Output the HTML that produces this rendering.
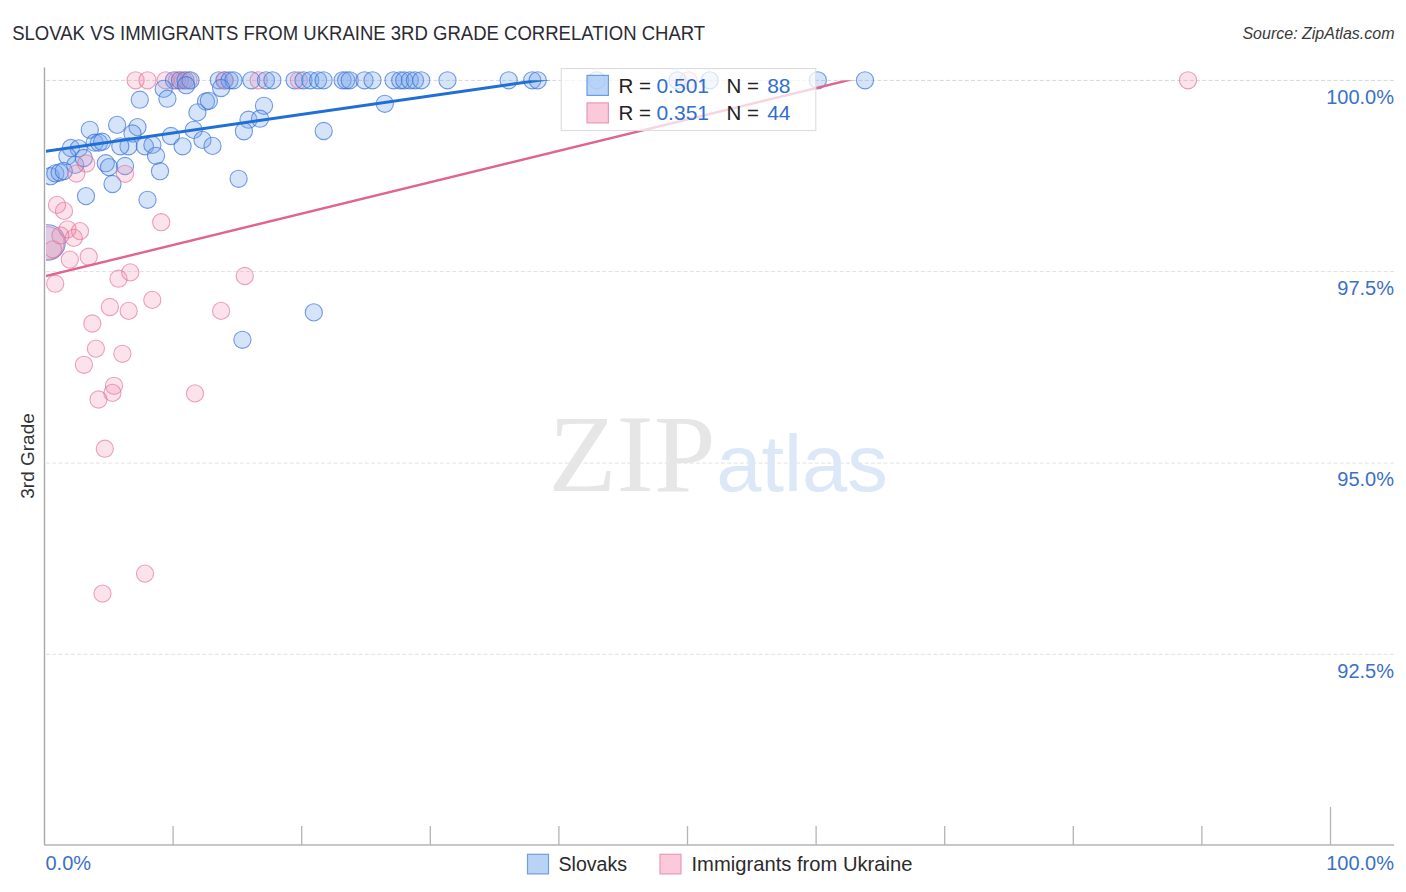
<!DOCTYPE html>
<html><head><meta charset="utf-8"><style>
html,body{margin:0;padding:0;background:#fff;width:1406px;height:892px;overflow:hidden}
body{position:relative;font-family:"Liberation Sans",sans-serif}
svg text{font-family:"Liberation Sans",sans-serif}
</style></head><body>
<svg width="1406" height="892" style="position:absolute;left:0;top:0">
<defs><clipPath id="c"><rect x="46" y="60" width="1360" height="785"/></clipPath><clipPath id="cl"><rect x="46" y="80.3" width="1360" height="765"/></clipPath></defs>
<text x="12.2" y="39.75" font-size="19.8" fill="#2b2b35" textLength="693" lengthAdjust="spacingAndGlyphs">SLOVAK VS IMMIGRANTS FROM UKRAINE 3RD GRADE CORRELATION CHART</text>
<text x="1394.5" y="38.8" font-size="16" fill="#3a3a3a" font-style="italic" text-anchor="end">Source: ZipAtlas.com</text>
<line x1="46" y1="80.4" x2="1394" y2="80.4" stroke="#d6d6d6" stroke-width="1" stroke-dasharray="4 2.25"/><line x1="46" y1="271.5" x2="1394" y2="271.5" stroke="#e2e2e2" stroke-width="1" stroke-dasharray="4 2.25"/><line x1="46" y1="463.1" x2="1394" y2="463.1" stroke="#e2e2e2" stroke-width="1" stroke-dasharray="4 2.25"/><line x1="46" y1="654.3" x2="1394" y2="654.3" stroke="#e2e2e2" stroke-width="1" stroke-dasharray="4 2.25"/>
<text x="548.6" y="491" font-family="Liberation Serif" font-size="111" fill="#e6e6e6" textLength="167" lengthAdjust="spacingAndGlyphs" style="font-family:'Liberation Serif',serif">ZIP</text>
<text x="716.3" y="491" font-size="80" fill="#dce8f8" textLength="171.4" lengthAdjust="spacingAndGlyphs">atlas</text>
<g clip-path="url(#c)">
<circle cx="47.5" cy="242.5" r="17.8" fill="rgba(120,165,235,0.3)" stroke="rgba(55,110,215,0.68)" stroke-width="1.1"/><circle cx="47.8" cy="243" r="16.3" fill="rgba(245,140,175,0.25)" stroke="rgba(225,115,150,0.65)" stroke-width="1.1"/><circle cx="135.6" cy="80.3" r="8.6" fill="rgba(245,140,175,0.25)" stroke="rgba(225,115,150,0.65)" stroke-width="1.1"/><circle cx="147.5" cy="80.3" r="8.6" fill="rgba(245,140,175,0.25)" stroke="rgba(225,115,150,0.65)" stroke-width="1.1"/><circle cx="165.7" cy="80.3" r="8.6" fill="rgba(245,140,175,0.25)" stroke="rgba(225,115,150,0.65)" stroke-width="1.1"/><circle cx="174" cy="80.3" r="8.6" fill="rgba(120,165,235,0.3)" stroke="rgba(55,110,215,0.68)" stroke-width="1.1"/><circle cx="177" cy="80.3" r="8.6" fill="rgba(245,140,175,0.25)" stroke="rgba(225,115,150,0.65)" stroke-width="1.1"/><circle cx="180" cy="80.3" r="8.6" fill="rgba(120,165,235,0.3)" stroke="rgba(55,110,215,0.68)" stroke-width="1.1"/><circle cx="183" cy="80.3" r="8.6" fill="rgba(245,140,175,0.25)" stroke="rgba(225,115,150,0.65)" stroke-width="1.1"/><circle cx="185.5" cy="80.3" r="8.6" fill="rgba(120,165,235,0.3)" stroke="rgba(55,110,215,0.68)" stroke-width="1.1"/><circle cx="188.5" cy="80.3" r="8.6" fill="rgba(245,140,175,0.25)" stroke="rgba(225,115,150,0.65)" stroke-width="1.1"/><circle cx="190.5" cy="80.3" r="8.6" fill="rgba(120,165,235,0.3)" stroke="rgba(55,110,215,0.68)" stroke-width="1.1"/><circle cx="218.8" cy="80.3" r="8.6" fill="rgba(120,165,235,0.3)" stroke="rgba(55,110,215,0.68)" stroke-width="1.1"/><circle cx="224.5" cy="80.3" r="8.6" fill="rgba(120,165,235,0.3)" stroke="rgba(55,110,215,0.68)" stroke-width="1.1"/><circle cx="224.7" cy="80.3" r="8.6" fill="rgba(245,140,175,0.25)" stroke="rgba(225,115,150,0.65)" stroke-width="1.1"/><circle cx="229.6" cy="80.3" r="8.6" fill="rgba(120,165,235,0.3)" stroke="rgba(55,110,215,0.68)" stroke-width="1.1"/><circle cx="233.5" cy="80.3" r="8.6" fill="rgba(120,165,235,0.3)" stroke="rgba(55,110,215,0.68)" stroke-width="1.1"/><circle cx="251.3" cy="80.3" r="8.6" fill="rgba(120,165,235,0.3)" stroke="rgba(55,110,215,0.68)" stroke-width="1.1"/><circle cx="258.7" cy="80.3" r="8.6" fill="rgba(245,140,175,0.25)" stroke="rgba(225,115,150,0.65)" stroke-width="1.1"/><circle cx="266" cy="80.3" r="8.6" fill="rgba(120,165,235,0.3)" stroke="rgba(55,110,215,0.68)" stroke-width="1.1"/><circle cx="272.4" cy="80.3" r="8.6" fill="rgba(120,165,235,0.3)" stroke="rgba(55,110,215,0.68)" stroke-width="1.1"/><circle cx="294.6" cy="80.3" r="8.6" fill="rgba(120,165,235,0.3)" stroke="rgba(55,110,215,0.68)" stroke-width="1.1"/><circle cx="298.9" cy="80.3" r="8.6" fill="rgba(245,140,175,0.25)" stroke="rgba(225,115,150,0.65)" stroke-width="1.1"/><circle cx="303.5" cy="80.3" r="8.6" fill="rgba(120,165,235,0.3)" stroke="rgba(55,110,215,0.68)" stroke-width="1.1"/><circle cx="310.3" cy="80.3" r="8.6" fill="rgba(120,165,235,0.3)" stroke="rgba(55,110,215,0.68)" stroke-width="1.1"/><circle cx="318.1" cy="80.3" r="8.6" fill="rgba(120,165,235,0.3)" stroke="rgba(55,110,215,0.68)" stroke-width="1.1"/><circle cx="323.6" cy="80.3" r="8.6" fill="rgba(120,165,235,0.3)" stroke="rgba(55,110,215,0.68)" stroke-width="1.1"/><circle cx="342.6" cy="80.3" r="8.6" fill="rgba(120,165,235,0.3)" stroke="rgba(55,110,215,0.68)" stroke-width="1.1"/><circle cx="346.2" cy="80.3" r="8.6" fill="rgba(120,165,235,0.3)" stroke="rgba(55,110,215,0.68)" stroke-width="1.1"/><circle cx="349.7" cy="80.3" r="8.6" fill="rgba(120,165,235,0.3)" stroke="rgba(55,110,215,0.68)" stroke-width="1.1"/><circle cx="364.5" cy="80.3" r="8.6" fill="rgba(120,165,235,0.3)" stroke="rgba(55,110,215,0.68)" stroke-width="1.1"/><circle cx="372.5" cy="80.3" r="8.6" fill="rgba(120,165,235,0.3)" stroke="rgba(55,110,215,0.68)" stroke-width="1.1"/><circle cx="393.5" cy="80.3" r="8.6" fill="rgba(120,165,235,0.3)" stroke="rgba(55,110,215,0.68)" stroke-width="1.1"/><circle cx="400.2" cy="80.3" r="8.6" fill="rgba(120,165,235,0.3)" stroke="rgba(55,110,215,0.68)" stroke-width="1.1"/><circle cx="404.2" cy="80.3" r="8.6" fill="rgba(120,165,235,0.3)" stroke="rgba(55,110,215,0.68)" stroke-width="1.1"/><circle cx="409.9" cy="80.3" r="8.6" fill="rgba(120,165,235,0.3)" stroke="rgba(55,110,215,0.68)" stroke-width="1.1"/><circle cx="415" cy="80.3" r="8.6" fill="rgba(120,165,235,0.3)" stroke="rgba(55,110,215,0.68)" stroke-width="1.1"/><circle cx="421.2" cy="80.3" r="8.6" fill="rgba(120,165,235,0.3)" stroke="rgba(55,110,215,0.68)" stroke-width="1.1"/><circle cx="447.5" cy="80.3" r="8.6" fill="rgba(120,165,235,0.3)" stroke="rgba(55,110,215,0.68)" stroke-width="1.1"/><circle cx="508.7" cy="80.3" r="8.6" fill="rgba(120,165,235,0.3)" stroke="rgba(55,110,215,0.68)" stroke-width="1.1"/><circle cx="532.2" cy="80.3" r="8.6" fill="rgba(120,165,235,0.3)" stroke="rgba(55,110,215,0.68)" stroke-width="1.1"/><circle cx="537.7" cy="80.3" r="8.6" fill="rgba(120,165,235,0.3)" stroke="rgba(55,110,215,0.68)" stroke-width="1.1"/><circle cx="596.8" cy="80.3" r="8.6" fill="rgba(120,165,235,0.3)" stroke="rgba(55,110,215,0.68)" stroke-width="1.1"/><circle cx="677.5" cy="80.3" r="8.6" fill="rgba(120,165,235,0.3)" stroke="rgba(55,110,215,0.68)" stroke-width="1.1"/><circle cx="688.5" cy="80.3" r="8.6" fill="rgba(245,140,175,0.25)" stroke="rgba(225,115,150,0.65)" stroke-width="1.1"/><circle cx="709.7" cy="80.3" r="8.6" fill="rgba(120,165,235,0.3)" stroke="rgba(55,110,215,0.68)" stroke-width="1.1"/><circle cx="817.8" cy="80.3" r="8.6" fill="rgba(120,165,235,0.3)" stroke="rgba(55,110,215,0.68)" stroke-width="1.1"/><circle cx="865" cy="80.3" r="8.6" fill="rgba(120,165,235,0.3)" stroke="rgba(55,110,215,0.68)" stroke-width="1.1"/><circle cx="1188" cy="80.3" r="8.6" fill="rgba(245,140,175,0.25)" stroke="rgba(225,115,150,0.65)" stroke-width="1.1"/><circle cx="163.7" cy="88.9" r="8.6" fill="rgba(120,165,235,0.3)" stroke="rgba(55,110,215,0.68)" stroke-width="1.1"/><circle cx="167.4" cy="98.7" r="8.6" fill="rgba(120,165,235,0.3)" stroke="rgba(55,110,215,0.68)" stroke-width="1.1"/><circle cx="186.1" cy="85.2" r="8.6" fill="rgba(120,165,235,0.3)" stroke="rgba(55,110,215,0.68)" stroke-width="1.1"/><circle cx="139.8" cy="99.7" r="8.6" fill="rgba(120,165,235,0.3)" stroke="rgba(55,110,215,0.68)" stroke-width="1.1"/><circle cx="221.1" cy="88" r="8.6" fill="rgba(120,165,235,0.3)" stroke="rgba(55,110,215,0.68)" stroke-width="1.1"/><circle cx="206" cy="101.5" r="8.6" fill="rgba(120,165,235,0.3)" stroke="rgba(55,110,215,0.68)" stroke-width="1.1"/><circle cx="208.9" cy="100.8" r="8.6" fill="rgba(120,165,235,0.3)" stroke="rgba(55,110,215,0.68)" stroke-width="1.1"/><circle cx="197.4" cy="112.4" r="8.6" fill="rgba(120,165,235,0.3)" stroke="rgba(55,110,215,0.68)" stroke-width="1.1"/><circle cx="264" cy="105.8" r="8.6" fill="rgba(120,165,235,0.3)" stroke="rgba(55,110,215,0.68)" stroke-width="1.1"/><circle cx="248.5" cy="119.7" r="8.6" fill="rgba(120,165,235,0.3)" stroke="rgba(55,110,215,0.68)" stroke-width="1.1"/><circle cx="260" cy="118.7" r="8.6" fill="rgba(120,165,235,0.3)" stroke="rgba(55,110,215,0.68)" stroke-width="1.1"/><circle cx="243.9" cy="131.3" r="8.6" fill="rgba(120,165,235,0.3)" stroke="rgba(55,110,215,0.68)" stroke-width="1.1"/><circle cx="323.7" cy="131" r="8.6" fill="rgba(120,165,235,0.3)" stroke="rgba(55,110,215,0.68)" stroke-width="1.1"/><circle cx="384.8" cy="103.8" r="8.6" fill="rgba(120,165,235,0.3)" stroke="rgba(55,110,215,0.68)" stroke-width="1.1"/><circle cx="137.5" cy="127.1" r="8.6" fill="rgba(120,165,235,0.3)" stroke="rgba(55,110,215,0.68)" stroke-width="1.1"/><circle cx="132.5" cy="133.5" r="8.6" fill="rgba(120,165,235,0.3)" stroke="rgba(55,110,215,0.68)" stroke-width="1.1"/><circle cx="117.1" cy="124.9" r="8.6" fill="rgba(120,165,235,0.3)" stroke="rgba(55,110,215,0.68)" stroke-width="1.1"/><circle cx="89.8" cy="129.8" r="8.6" fill="rgba(120,165,235,0.3)" stroke="rgba(55,110,215,0.68)" stroke-width="1.1"/><circle cx="128.5" cy="146.3" r="8.6" fill="rgba(120,165,235,0.3)" stroke="rgba(55,110,215,0.68)" stroke-width="1.1"/><circle cx="144.9" cy="146.3" r="8.6" fill="rgba(120,165,235,0.3)" stroke="rgba(55,110,215,0.68)" stroke-width="1.1"/><circle cx="152.4" cy="144.9" r="8.6" fill="rgba(120,165,235,0.3)" stroke="rgba(55,110,215,0.68)" stroke-width="1.1"/><circle cx="156" cy="155.8" r="8.6" fill="rgba(120,165,235,0.3)" stroke="rgba(55,110,215,0.68)" stroke-width="1.1"/><circle cx="160" cy="171.2" r="8.6" fill="rgba(120,165,235,0.3)" stroke="rgba(55,110,215,0.68)" stroke-width="1.1"/><circle cx="170.9" cy="136" r="8.6" fill="rgba(120,165,235,0.3)" stroke="rgba(55,110,215,0.68)" stroke-width="1.1"/><circle cx="182.6" cy="146.3" r="8.6" fill="rgba(120,165,235,0.3)" stroke="rgba(55,110,215,0.68)" stroke-width="1.1"/><circle cx="193.7" cy="129.9" r="8.6" fill="rgba(120,165,235,0.3)" stroke="rgba(55,110,215,0.68)" stroke-width="1.1"/><circle cx="202.5" cy="139.9" r="8.6" fill="rgba(120,165,235,0.3)" stroke="rgba(55,110,215,0.68)" stroke-width="1.1"/><circle cx="212.5" cy="145.9" r="8.6" fill="rgba(120,165,235,0.3)" stroke="rgba(55,110,215,0.68)" stroke-width="1.1"/><circle cx="70.9" cy="148" r="8.6" fill="rgba(120,165,235,0.3)" stroke="rgba(55,110,215,0.68)" stroke-width="1.1"/><circle cx="78.7" cy="148.4" r="8.6" fill="rgba(120,165,235,0.3)" stroke="rgba(55,110,215,0.68)" stroke-width="1.1"/><circle cx="67.4" cy="156.2" r="8.6" fill="rgba(120,165,235,0.3)" stroke="rgba(55,110,215,0.68)" stroke-width="1.1"/><circle cx="94.7" cy="142.7" r="8.6" fill="rgba(120,165,235,0.3)" stroke="rgba(55,110,215,0.68)" stroke-width="1.1"/><circle cx="99" cy="142.7" r="8.6" fill="rgba(120,165,235,0.3)" stroke="rgba(55,110,215,0.68)" stroke-width="1.1"/><circle cx="102.2" cy="141.7" r="8.6" fill="rgba(120,165,235,0.3)" stroke="rgba(55,110,215,0.68)" stroke-width="1.1"/><circle cx="120.3" cy="146.3" r="8.6" fill="rgba(120,165,235,0.3)" stroke="rgba(55,110,215,0.68)" stroke-width="1.1"/><circle cx="75.2" cy="164.9" r="8.6" fill="rgba(120,165,235,0.3)" stroke="rgba(55,110,215,0.68)" stroke-width="1.1"/><circle cx="83.8" cy="158" r="8.6" fill="rgba(120,165,235,0.3)" stroke="rgba(55,110,215,0.68)" stroke-width="1.1"/><circle cx="105.8" cy="163.2" r="8.6" fill="rgba(120,165,235,0.3)" stroke="rgba(55,110,215,0.68)" stroke-width="1.1"/><circle cx="109" cy="167.1" r="8.6" fill="rgba(120,165,235,0.3)" stroke="rgba(55,110,215,0.68)" stroke-width="1.1"/><circle cx="125" cy="166" r="8.6" fill="rgba(120,165,235,0.3)" stroke="rgba(55,110,215,0.68)" stroke-width="1.1"/><circle cx="112.5" cy="184" r="8.6" fill="rgba(120,165,235,0.3)" stroke="rgba(55,110,215,0.68)" stroke-width="1.1"/><circle cx="86" cy="196.1" r="8.6" fill="rgba(120,165,235,0.3)" stroke="rgba(55,110,215,0.68)" stroke-width="1.1"/><circle cx="147.5" cy="199.8" r="8.6" fill="rgba(120,165,235,0.3)" stroke="rgba(55,110,215,0.68)" stroke-width="1.1"/><circle cx="238.6" cy="178.8" r="8.6" fill="rgba(120,165,235,0.3)" stroke="rgba(55,110,215,0.68)" stroke-width="1.1"/><circle cx="50.6" cy="176.2" r="8.6" fill="rgba(120,165,235,0.3)" stroke="rgba(55,110,215,0.68)" stroke-width="1.1"/><circle cx="55.3" cy="173.4" r="8.6" fill="rgba(120,165,235,0.3)" stroke="rgba(55,110,215,0.68)" stroke-width="1.1"/><circle cx="59.6" cy="172.5" r="8.6" fill="rgba(120,165,235,0.3)" stroke="rgba(55,110,215,0.68)" stroke-width="1.1"/><circle cx="63.8" cy="171" r="8.6" fill="rgba(120,165,235,0.3)" stroke="rgba(55,110,215,0.68)" stroke-width="1.1"/><circle cx="313.8" cy="312.4" r="8.6" fill="rgba(120,165,235,0.3)" stroke="rgba(55,110,215,0.68)" stroke-width="1.1"/><circle cx="242.4" cy="339.8" r="8.6" fill="rgba(120,165,235,0.3)" stroke="rgba(55,110,215,0.68)" stroke-width="1.1"/><circle cx="86.2" cy="163.5" r="8.6" fill="rgba(245,140,175,0.25)" stroke="rgba(225,115,150,0.65)" stroke-width="1.1"/><circle cx="76.3" cy="173.5" r="8.6" fill="rgba(245,140,175,0.25)" stroke="rgba(225,115,150,0.65)" stroke-width="1.1"/><circle cx="125" cy="173.8" r="8.6" fill="rgba(245,140,175,0.25)" stroke="rgba(225,115,150,0.65)" stroke-width="1.1"/><circle cx="161.2" cy="222.2" r="8.6" fill="rgba(245,140,175,0.25)" stroke="rgba(225,115,150,0.65)" stroke-width="1.1"/><circle cx="57" cy="204.9" r="8.6" fill="rgba(245,140,175,0.25)" stroke="rgba(225,115,150,0.65)" stroke-width="1.1"/><circle cx="64" cy="210.9" r="8.6" fill="rgba(245,140,175,0.25)" stroke="rgba(225,115,150,0.65)" stroke-width="1.1"/><circle cx="67.5" cy="229.3" r="8.6" fill="rgba(245,140,175,0.25)" stroke="rgba(225,115,150,0.65)" stroke-width="1.1"/><circle cx="80" cy="231.1" r="8.6" fill="rgba(245,140,175,0.25)" stroke="rgba(225,115,150,0.65)" stroke-width="1.1"/><circle cx="73.8" cy="237.9" r="8.6" fill="rgba(245,140,175,0.25)" stroke="rgba(225,115,150,0.65)" stroke-width="1.1"/><circle cx="60.4" cy="235.5" r="8.6" fill="rgba(245,140,175,0.25)" stroke="rgba(225,115,150,0.65)" stroke-width="1.1"/><circle cx="69.8" cy="259.6" r="8.6" fill="rgba(245,140,175,0.25)" stroke="rgba(225,115,150,0.65)" stroke-width="1.1"/><circle cx="88.7" cy="256.7" r="8.6" fill="rgba(245,140,175,0.25)" stroke="rgba(225,115,150,0.65)" stroke-width="1.1"/><circle cx="55.2" cy="283.7" r="8.6" fill="rgba(245,140,175,0.25)" stroke="rgba(225,115,150,0.65)" stroke-width="1.1"/><circle cx="118.5" cy="278.7" r="8.6" fill="rgba(245,140,175,0.25)" stroke="rgba(225,115,150,0.65)" stroke-width="1.1"/><circle cx="130.3" cy="272.4" r="8.6" fill="rgba(245,140,175,0.25)" stroke="rgba(225,115,150,0.65)" stroke-width="1.1"/><circle cx="152.3" cy="299.9" r="8.6" fill="rgba(245,140,175,0.25)" stroke="rgba(225,115,150,0.65)" stroke-width="1.1"/><circle cx="109.9" cy="307" r="8.6" fill="rgba(245,140,175,0.25)" stroke="rgba(225,115,150,0.65)" stroke-width="1.1"/><circle cx="128.7" cy="310.9" r="8.6" fill="rgba(245,140,175,0.25)" stroke="rgba(225,115,150,0.65)" stroke-width="1.1"/><circle cx="92.3" cy="323.5" r="8.6" fill="rgba(245,140,175,0.25)" stroke="rgba(225,115,150,0.65)" stroke-width="1.1"/><circle cx="221.1" cy="310.9" r="8.6" fill="rgba(245,140,175,0.25)" stroke="rgba(225,115,150,0.65)" stroke-width="1.1"/><circle cx="244.8" cy="276" r="8.6" fill="rgba(245,140,175,0.25)" stroke="rgba(225,115,150,0.65)" stroke-width="1.1"/><circle cx="95.9" cy="348.6" r="8.6" fill="rgba(245,140,175,0.25)" stroke="rgba(225,115,150,0.65)" stroke-width="1.1"/><circle cx="122.4" cy="353.8" r="8.6" fill="rgba(245,140,175,0.25)" stroke="rgba(225,115,150,0.65)" stroke-width="1.1"/><circle cx="83.9" cy="364.8" r="8.6" fill="rgba(245,140,175,0.25)" stroke="rgba(225,115,150,0.65)" stroke-width="1.1"/><circle cx="114" cy="385.8" r="8.6" fill="rgba(245,140,175,0.25)" stroke="rgba(225,115,150,0.65)" stroke-width="1.1"/><circle cx="112.4" cy="392.9" r="8.6" fill="rgba(245,140,175,0.25)" stroke="rgba(225,115,150,0.65)" stroke-width="1.1"/><circle cx="98.5" cy="399.5" r="8.6" fill="rgba(245,140,175,0.25)" stroke="rgba(225,115,150,0.65)" stroke-width="1.1"/><circle cx="195" cy="393.4" r="8.6" fill="rgba(245,140,175,0.25)" stroke="rgba(225,115,150,0.65)" stroke-width="1.1"/><circle cx="104.8" cy="448.7" r="8.6" fill="rgba(245,140,175,0.25)" stroke="rgba(225,115,150,0.65)" stroke-width="1.1"/><circle cx="145" cy="573.6" r="8.6" fill="rgba(245,140,175,0.25)" stroke="rgba(225,115,150,0.65)" stroke-width="1.1"/><circle cx="102.5" cy="593.6" r="8.6" fill="rgba(245,140,175,0.25)" stroke="rgba(225,115,150,0.65)" stroke-width="1.1"/><circle cx="53" cy="249.3" r="8.6" fill="rgba(245,140,175,0.25)" stroke="rgba(225,115,150,0.65)" stroke-width="1.1"/>
</g>
<g clip-path="url(#cl)">
<line x1="44.5" y1="151.5" x2="600" y2="71.5" stroke="#1f6fd6" stroke-width="3"/>
<line x1="44.5" y1="276.4" x2="900" y2="67.6" stroke="#e0648e" stroke-width="2.4"/>
</g>
<line x1="44.5" y1="67.5" x2="44.5" y2="845" stroke="#a8a8a8" stroke-width="1.4"/>
<line x1="44" y1="845" x2="1394" y2="845" stroke="#b4b4b4" stroke-width="1.4"/>
<line x1="173.1" y1="826" x2="173.1" y2="845" stroke="#b4b4b4" stroke-width="1.3"/><line x1="301.7" y1="826" x2="301.7" y2="845" stroke="#b4b4b4" stroke-width="1.3"/><line x1="430.3" y1="826" x2="430.3" y2="845" stroke="#b4b4b4" stroke-width="1.3"/><line x1="558.9" y1="826" x2="558.9" y2="845" stroke="#b4b4b4" stroke-width="1.3"/><line x1="687.5" y1="826" x2="687.5" y2="845" stroke="#b4b4b4" stroke-width="1.3"/><line x1="816.1" y1="826" x2="816.1" y2="845" stroke="#b4b4b4" stroke-width="1.3"/><line x1="944.7" y1="826" x2="944.7" y2="845" stroke="#b4b4b4" stroke-width="1.3"/><line x1="1073.3" y1="826" x2="1073.3" y2="845" stroke="#b4b4b4" stroke-width="1.3"/><line x1="1201.9" y1="826" x2="1201.9" y2="845" stroke="#b4b4b4" stroke-width="1.3"/>
<line x1="1330.5" y1="807" x2="1330.5" y2="845" stroke="#b4b4b4" stroke-width="1.3"/>
<g font-size="20" fill="#3b70c8" text-anchor="end">
<text x="1394" y="103.7">100.0%</text>
<text x="1394" y="295">97.5%</text>
<text x="1394" y="486">95.0%</text>
<text x="1394" y="677.6">92.5%</text>
<text x="1394" y="870.2">100.0%</text>
</g>
<text x="45.5" y="870" font-size="20" fill="#3b70c8">0.0%</text>
<text transform="translate(33.6,456) rotate(-90)" font-size="19" fill="#333" text-anchor="middle">3rd Grade</text>
<rect x="527.5" y="854.3" width="21" height="19.6" fill="#b9d3f6" stroke="#6e9fe2" stroke-width="1.2"/>
<text x="558.5" y="870.7" font-size="19.6" fill="#2b2b2b">Slovaks</text>
<rect x="660" y="854.3" width="21" height="19.6" fill="#fbc9da" stroke="#e89ab4" stroke-width="1.2"/>
<text x="691.5" y="870.7" font-size="20.2" fill="#2b2b2b">Immigrants from Ukraine</text>
<rect x="561.2" y="68.6" width="254.6" height="61.9" fill="rgba(255,255,255,0.72)" stroke="#dcdcdc" stroke-width="1.1"/>
<rect x="587" y="75.4" width="21.4" height="20" fill="rgba(150,190,245,0.65)" stroke="rgba(90,140,220,0.85)" stroke-width="1.2"/>
<rect x="587" y="102.9" width="21.4" height="20" fill="#fbc9da" stroke="#e89ab4" stroke-width="1.2"/>
<g font-size="20.5" fill="#222">
<text x="618.5" y="92.9">R =</text><text x="726.5" y="92.9">N =</text>
<text x="618.5" y="119.7">R =</text><text x="726.5" y="119.7">N =</text>
</g>
<g font-size="21" fill="#2f6fd0" text-anchor="end">
<text x="709" y="92.9">0.501</text><text x="790.5" y="92.9">88</text>
<text x="709" y="119.7">0.351</text><text x="790.5" y="119.7">44</text>
</g>
</svg>
</body></html>
